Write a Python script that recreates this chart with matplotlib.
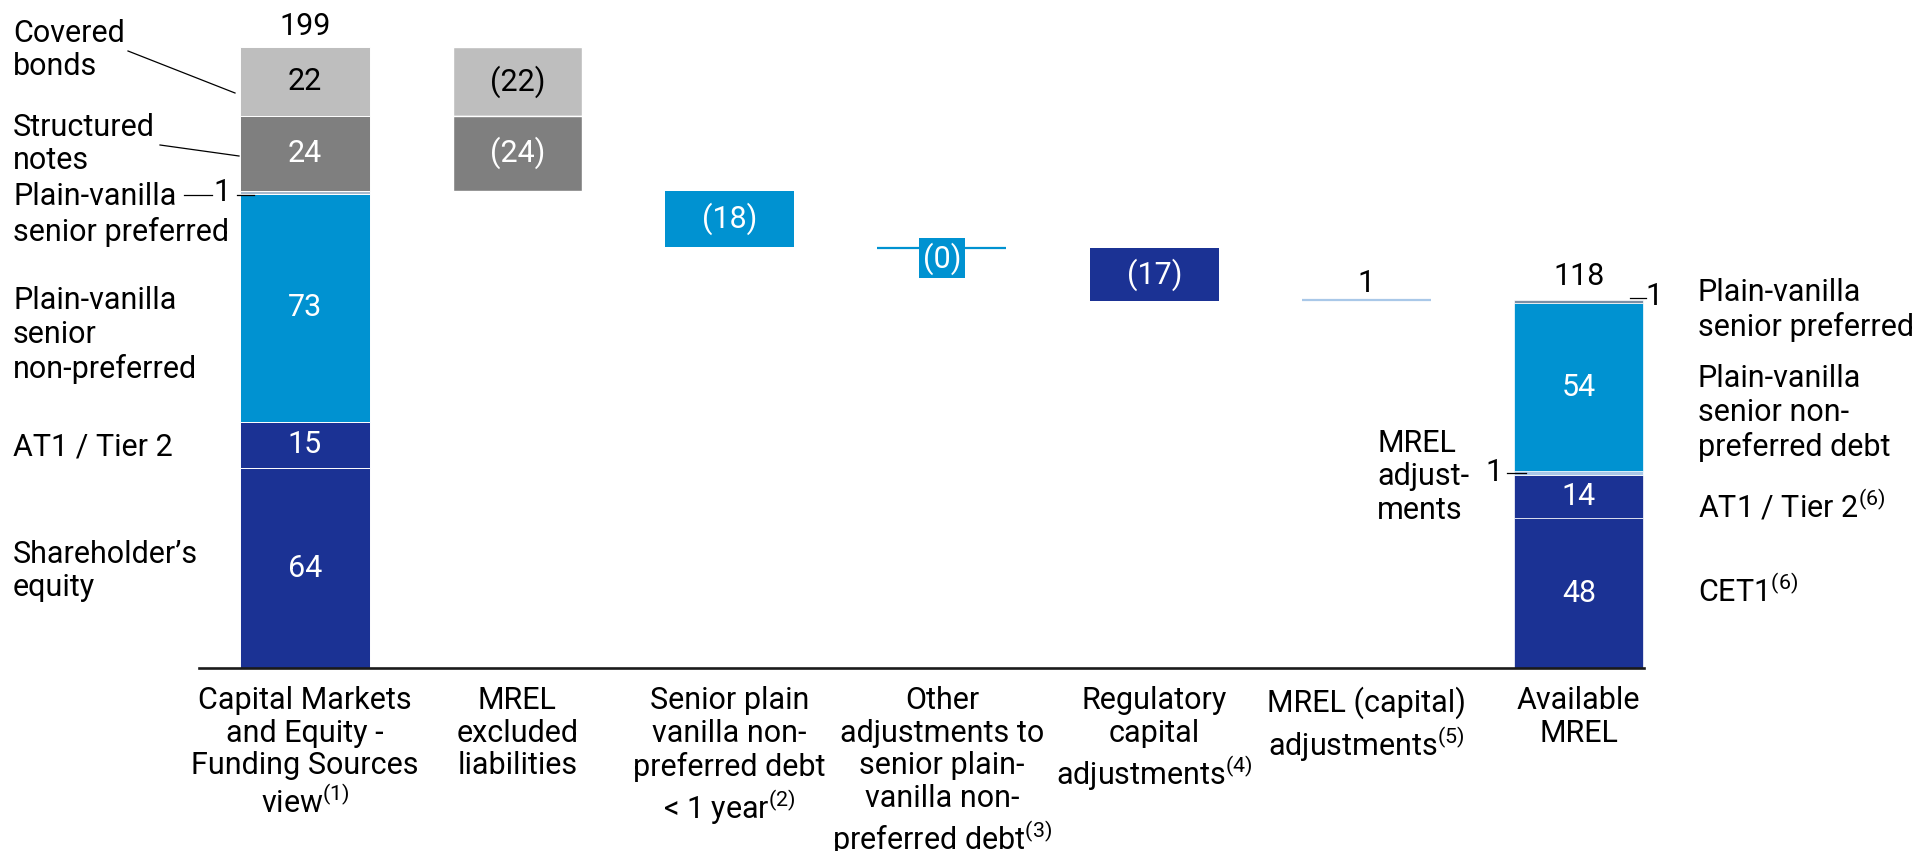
import matplotlib
matplotlib.use("Agg")
from matplotlib import pyplot as plt
import numpy as np

plt.rcParams['font.family'] = ['Roboto', 'DejaVu Sans']
plt.rcParams['mathtext.default'] = 'regular'

# ---- data ----
categories = ['Capital Markets\nand Equity -\nFunding Sources\nview$^{(1)}$',
              'MREL\nexcluded\nliabilities',
              'Senior plain\nvanilla non-\npreferred debt\n< 1 year$^{(2)}$',
              'Other\nadjustments to\nsenior plain-\nvanilla non-\npreferred debt$^{(3)}$',
              'Regulatory\ncapital\nadjustments$^{(4)}$',
              'MREL (capital)\nadjustments$^{(5)}$',
              'Available\nMREL']

# funding sources stack (bottom -> top)
funding_values = [64, 15, 73, 1, 24, 22]
funding_labels = ['64', '15', '73', '', '24', '22']
# MREL excluded liabilities (covered bonds, structured notes)
excluded_values = [-22, -24]
excluded_labels = ['(22)', '(24)']
# single step adjustments
step_values = [-18, -0.4, -17, 0.5]
step_labels = ['(18)', '(0)', '(17)', '1']
# available MREL stack (bottom -> top)
mrel_values = [48, 14, 1, 54, 1]
mrel_labels = ['48', '14', '', '54', '']

NAVY = '#1b3294'
BLUE = '#0092d1'
LGRAY = '#bebebe'
DGRAY = '#7f7f7f'
PALE = '#a9c8e8'
funding_colors = [NAVY, NAVY, BLUE, '#a7b9cc', DGRAY, LGRAY]
funding_tc = ['white', 'white', 'white', 'white', 'white', 'black']
excluded_colors = [LGRAY, DGRAY]
excluded_tc = ['black', 'white']
step_colors = [BLUE, BLUE, NAVY, PALE]
mrel_colors = [NAVY, NAVY, PALE, BLUE, '#7b8fa6']

# ---- layout helpers (pixel -> data) ----
X0, DX = 305, 212.3
Y0, SY = 668, 3.12
W, H = 1916, 851


def px(x):
    return (x - X0) / DX


def py(y):
    return (Y0 - y) / SY


fig = plt.figure(figsize=(W / 100, H / 100), dpi=100)
ax = fig.add_axes([0, 0, 1, 1])
ax.set_xlim(px(0), px(W))
ax.set_ylim(py(H), py(0))
ax.axis('off')

bw = 0.608
fs = 22
ls = 1.2

# bar 0 - funding sources
bottom = 0
for v, c, lab, tc in zip(funding_values, funding_colors, funding_labels, funding_tc):
    ax.bar(0, v, bw, bottom=bottom, color=c, edgecolor='white', linewidth=0.7)
    if lab:
        ax.text(0, bottom + v / 2, lab, ha='center', va='center', color=tc, fontsize=fs)
    bottom += v
total = bottom
ax.text(0, total + 6.5, str(total), ha='center', va='center', fontsize=fs)

# bar 1 - excluded
level = total
for v, c, lab, tc in zip(excluded_values, excluded_colors, excluded_labels, excluded_tc):
    ax.bar(1, v, bw, bottom=level, color=c, edgecolor='white', linewidth=1)
    ax.text(1, level + v / 2, lab, ha='center', va='center', color=tc, fontsize=fs)
    level += v

# steps
for i, (v, c, lab) in enumerate(zip(step_values, step_colors, step_labels)):
    xi = i + 2
    if abs(v) < 1:
        ax.hlines(level + v, xi - bw / 2, xi + bw / 2, color=c, lw=1.6)
        if v < 0:
            ax.text(xi, level + v - 3.3, lab, ha='center', va='center', color='white', fontsize=fs,
                    bbox=dict(boxstyle='square,pad=0.12', fc=c, ec='none'))
        else:
            ax.text(xi, level + v + 5, lab, ha='center', va='center', color='black', fontsize=fs)
    else:
        ax.bar(xi, v, bw, bottom=level, color=c, edgecolor='none')
        ax.text(xi, level + v / 2, lab, ha='center', va='center', color='white', fontsize=fs)
    level += v

# bar 6 - available MREL
bottom = 0
for v, c, lab in zip(mrel_values, mrel_colors, mrel_labels):
    ax.bar(6, v, bw, bottom=bottom, color=c, edgecolor='white', linewidth=0.5)
    if lab:
        ax.text(6, bottom + v / 2, lab, ha='center', va='center', color='white', fontsize=fs)
    bottom += v
ax.text(6, bottom + 7.5, str(bottom), ha='center', va='center', fontsize=fs)

# baseline
ax.plot([px(199), px(1644)], [0, 0], color='#1a1a1a', lw=1.9, zorder=5)

# category labels
for i, lab in enumerate(categories):
    ax.text(i, py(686), lab, ha='center', va='top', fontsize=fs, linespacing=1.16)

# left legend for bar 0
left = [('Covered\nbonds', 50), ('Structured\nnotes', 144), ('Plain-vanilla', 197),
        ('senior preferred', 232), ('Plain-vanilla\nsenior\nnon-preferred', 335),
        ('AT1 / Tier 2', 447), ('Shareholder\u2019s\nequity', 571)]
for t, y in left:
    ax.text(px(13), py(y), t, ha='left', va='center', fontsize=fs, linespacing=ls)
ax.plot([px(128), px(235)], [py(51), py(93)], color='black', lw=0.9)
ax.plot([px(160), px(239)], [py(145), py(156)], color='black', lw=0.9)
ax.plot([px(184), px(212)], [py(195), py(195)], color='black', lw=0.9)
ax.plot([px(237), px(254)], [py(195), py(195)], color='black', lw=0.9)
ax.text(px(222), py(193), '1', ha='center', va='center', fontsize=fs)

# right legend for bar 6
right = [('Plain-vanilla\nsenior preferred', 310), ('Plain-vanilla\nsenior non-\npreferred debt', 413),
         ('AT1 / Tier 2$^{(6)}$', 505), ('CET1$^{(6)}$', 591)]
for t, y in right:
    ax.text(px(1698), py(y), t, ha='left', va='center', fontsize=fs, linespacing=ls)
ax.text(px(1377), py(477), 'MREL\nadjust-\nments', ha='left', va='center', fontsize=fs, linespacing=ls)
ax.plot([px(1630), px(1646)], [py(298), py(298)], color='black', lw=0.9)
ax.text(px(1654), py(297), '1', ha='center', va='center', fontsize=fs)
ax.plot([px(1507), px(1526)], [py(473), py(473)], color='black', lw=0.9)
ax.text(px(1494), py(473), '1', ha='center', va='center', fontsize=fs)

fig.savefig('out.png', dpi=100)
